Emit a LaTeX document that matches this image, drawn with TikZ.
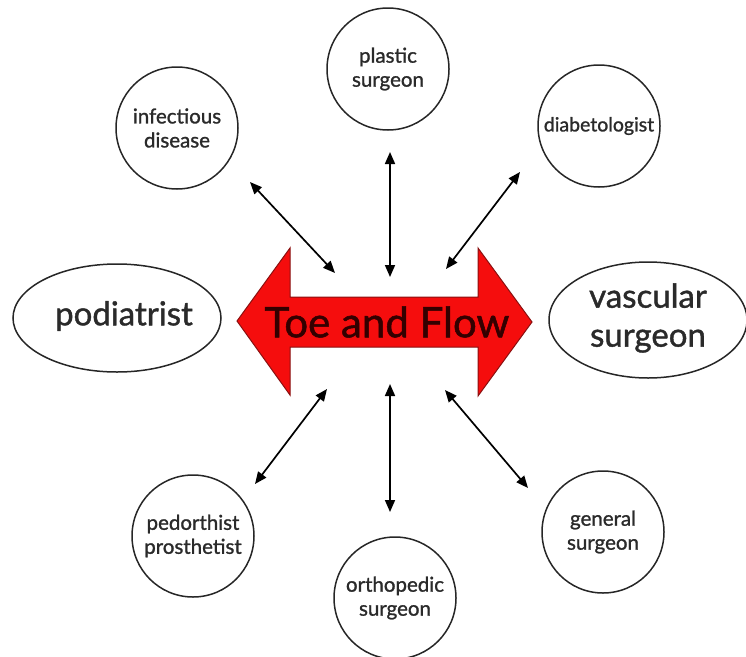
\documentclass[tikz,border=0pt]{standalone}
\usepackage{fontspec}
\setmainfont{Lato}[FakeBold=0.8]
\newfontfamily\medfont{Lato}[FakeBold=1.2]
\usetikzlibrary{arrows.meta}
\definecolor{txt}{HTML}{2A2A2A}
\definecolor{redfill}{HTML}{F50D0D}
\definecolor{redline}{HTML}{8A1010}
\begin{document}
\begin{tikzpicture}[x=1pt,y=-1pt,
  circ/.style={draw=black!85, line width=1.5pt, circle, minimum size=122pt, inner sep=0pt, align=center, text=txt, font=\medfont\fontsize{20.5}{24}\selectfont},
  link/.style={line width=1.7pt, black, {Triangle[length=12pt,width=10pt]}-{Triangle[length=12pt,width=10pt]}}
]
\useasboundingbox (0,0) rectangle (746,656);
% red double arrow
\draw[fill=redfill, draw=redline, line width=1pt]
  (237,321) -- (290,248) -- (290,297) -- (478,297) -- (478,248) -- (532,322)
  -- (478,396) -- (478,347) -- (290,347) -- (290,395) -- cycle;
\node[text=black!80!red, font=\medfont\fontsize{42}{44}\selectfont] (hub) at (387,322) {Toe and Flow};

% circles
\node[circ] (inf) at (177,128) {infectious\\disease};
\node[circ] (pla) at (388,69) {plastic\\surgeon};
\node[circ, font=\medfont\fontsize{19.5}{22}\selectfont] (dia) at (599,126) {diabetologist};
\node[circ] (ped) at (193,536) {pedorthist\\prosthetist};
\node[circ] (ort) at (395,598) {orthopedic\\surgeon};
\node[circ] (gen) at (603,532) {general\\surgeon};
\draw[black!85, line width=1.5pt] (117,318) ellipse [x radius=104, y radius=54];
\node[text=txt, font=\medfont\fontsize{33}{36}\selectfont] (pod) at (124,316) {podiatrist};
\draw[black!85, line width=1.5pt] (648,320) ellipse [x radius=99, y radius=58];
\node[text=txt, align=center, font=\medfont\fontsize{33}{39}\selectfont] (vas) at (648,318) {vascular\\surgeon};

% connectors
\coordinate (a1) at (250,182); \coordinate (b1) at (335,273);
\coordinate (a2) at (390,152); \coordinate (b2) at (390,277);
\coordinate (a3) at (520,172); \coordinate (b3) at (446,269);
\coordinate (a4) at (255,484); \coordinate (b4) at (327,389);
\coordinate (a5) at (390,512); \coordinate (b5) at (390,384);
\coordinate (a6) at (528,488); \coordinate (b6) at (445,390);
\draw[link] (a1) -- (b1);
\draw[link] (a2) -- (b2);
\draw[link] (a3) -- (b3);
\draw[link] (a4) -- (b4);
\draw[link] (a5) -- (b5);
\draw[link] (a6) -- (b6);
\end{tikzpicture}
\end{document}
